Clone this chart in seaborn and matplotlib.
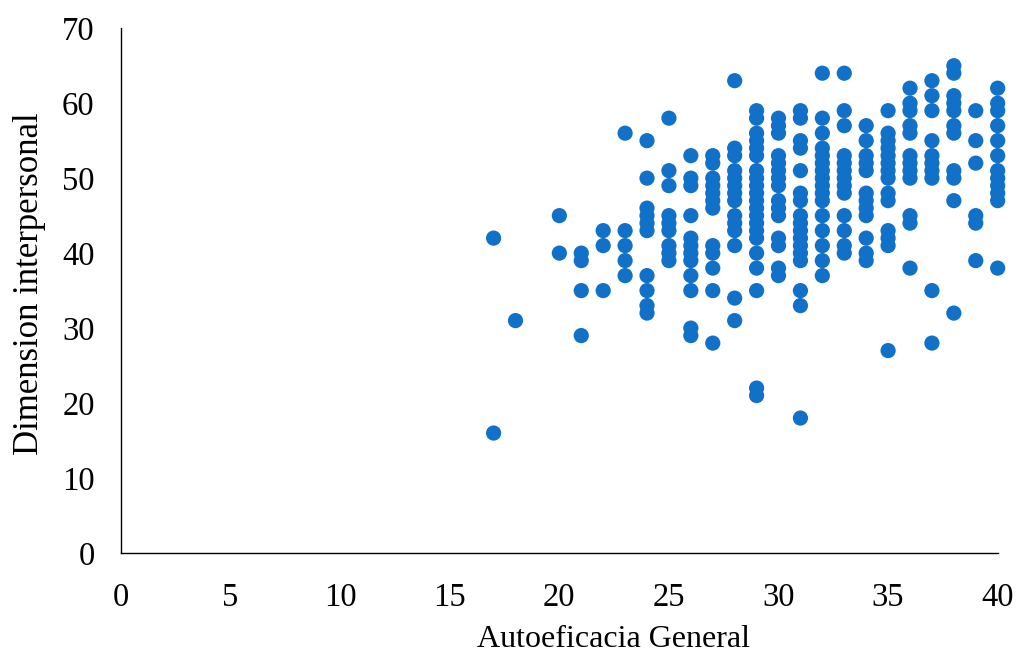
import matplotlib
matplotlib.use("Agg")
import matplotlib.pyplot as plt
import seaborn as sns
import pandas as pd

col_17 = [42, 16]
col_18 = [31]
col_20 = [45, 40]
col_21 = [40, 39, 35, 29]
col_22 = [43, 41, 35]
col_23 = [56, 43, 41, 39, 37]
col_24 = [55, 50, 46, 45, 44, 43, 37, 35, 33, 32]
col_25 = [58, 51, 49, 45, 44, 43, 41, 40, 39]
col_26 = [53, 50, 49, 45, 42, 41, 40, 39, 37, 35, 30, 29]
col_27 = [53, 52, 50, 49, 48, 47, 46, 41, 40, 38, 35, 28]
col_28 = [63, 54, 53, 51, 50, 49, 48, 47, 45, 44, 43, 41, 34, 31]
col_29 = [59, 58, 56, 55, 54, 53, 51, 50, 49, 48, 47, 46, 45, 44, 43, 42, 40, 38, 35, 22, 21]
col_30 = [58, 57, 56, 53, 52, 51, 50, 49, 47, 46, 45, 42, 41, 38, 37]
col_31 = [59, 58, 55, 54, 51, 48, 47, 45, 44, 43, 42, 41, 40, 39, 35, 33, 18]
col_32 = [64, 58, 56, 54, 53, 52, 51, 50, 49, 48, 47, 45, 43, 41, 39, 37]
col_33 = [64, 59, 57, 53, 52, 51, 50, 49, 48, 45, 43, 41, 40]
col_34 = [57, 55, 53, 52, 51, 48, 47, 46, 45, 42, 40, 39]
col_35 = [59, 56, 55, 54, 53, 52, 51, 50, 48, 47, 43, 42, 41, 27]
col_36 = [62, 60, 59, 57, 56, 53, 52, 51, 50, 45, 44, 38]
col_37 = [63, 61, 59, 55, 53, 52, 51, 50, 35, 28]
col_38 = [65, 64, 61, 60, 59, 57, 56, 51, 50, 47, 32]
col_39 = [59, 55, 52, 45, 44, 39]
col_40 = [62, 60, 59, 57, 55, 53, 51, 50, 49, 48, 47, 38]

columns = {17: col_17, 18: col_18, 20: col_20, 21: col_21, 22: col_22, 23: col_23,
           24: col_24, 25: col_25, 26: col_26, 27: col_27, 28: col_28, 29: col_29,
           30: col_30, 31: col_31, 32: col_32, 33: col_33, 34: col_34, 35: col_35,
           36: col_36, 37: col_37, 38: col_38, 39: col_39, 40: col_40}

x_ticks = [0, 5, 10, 15, 20, 25, 30, 35, 40]
y_ticks = [0, 10, 20, 30, 40, 50, 60, 70]

xs, ys = [], []
for k, vals in columns.items():
    for v in vals:
        xs.append(k)
        ys.append(v)
df = pd.DataFrame({"Autoeficacia General": xs, "Dimension interpersonal": ys})

sns.set_style("white")
plt.rcParams['font.family'] = ['Liberation Serif', 'DejaVu Serif']

fig = plt.figure(figsize=(10.17, 6.56), dpi=100)
ax = fig.add_axes([0.119, 0.157, 0.862, 0.800])
sns.scatterplot(data=df, x="Autoeficacia General", y="Dimension interpersonal",
                ax=ax, color="#1170C8", s=120, edgecolor="none", linewidth=0)
for coll in ax.collections:
    coll.set_clip_on(False)
ax.set_xlim(0, 40)
ax.set_ylim(0, 70)
ax.set_xticks(x_ticks)
ax.set_yticks(y_ticks)
ax.tick_params(axis='both', labelsize=23.5, length=0, colors="black")
ax.tick_params(axis='x', pad=21)
ax.tick_params(axis='y', pad=19)
ax.set_xlabel("Autoeficacia General", fontsize=23, color="black")
ax.set_ylabel("Dimension interpersonal", fontsize=25, color="black")
ax.xaxis.set_label_coords(0.562, -0.137)
ax.yaxis.set_label_coords(-0.086, 0.514)
for s in ["top", "right"]:
    ax.spines[s].set_visible(False)
for s in ["left", "bottom"]:
    ax.spines[s].set_color("black")
    ax.spines[s].set_linewidth(1.0)
for t in ax.get_xticklabels():
    t.set_clip_on(False)
fig.savefig("out.png", dpi=100)
